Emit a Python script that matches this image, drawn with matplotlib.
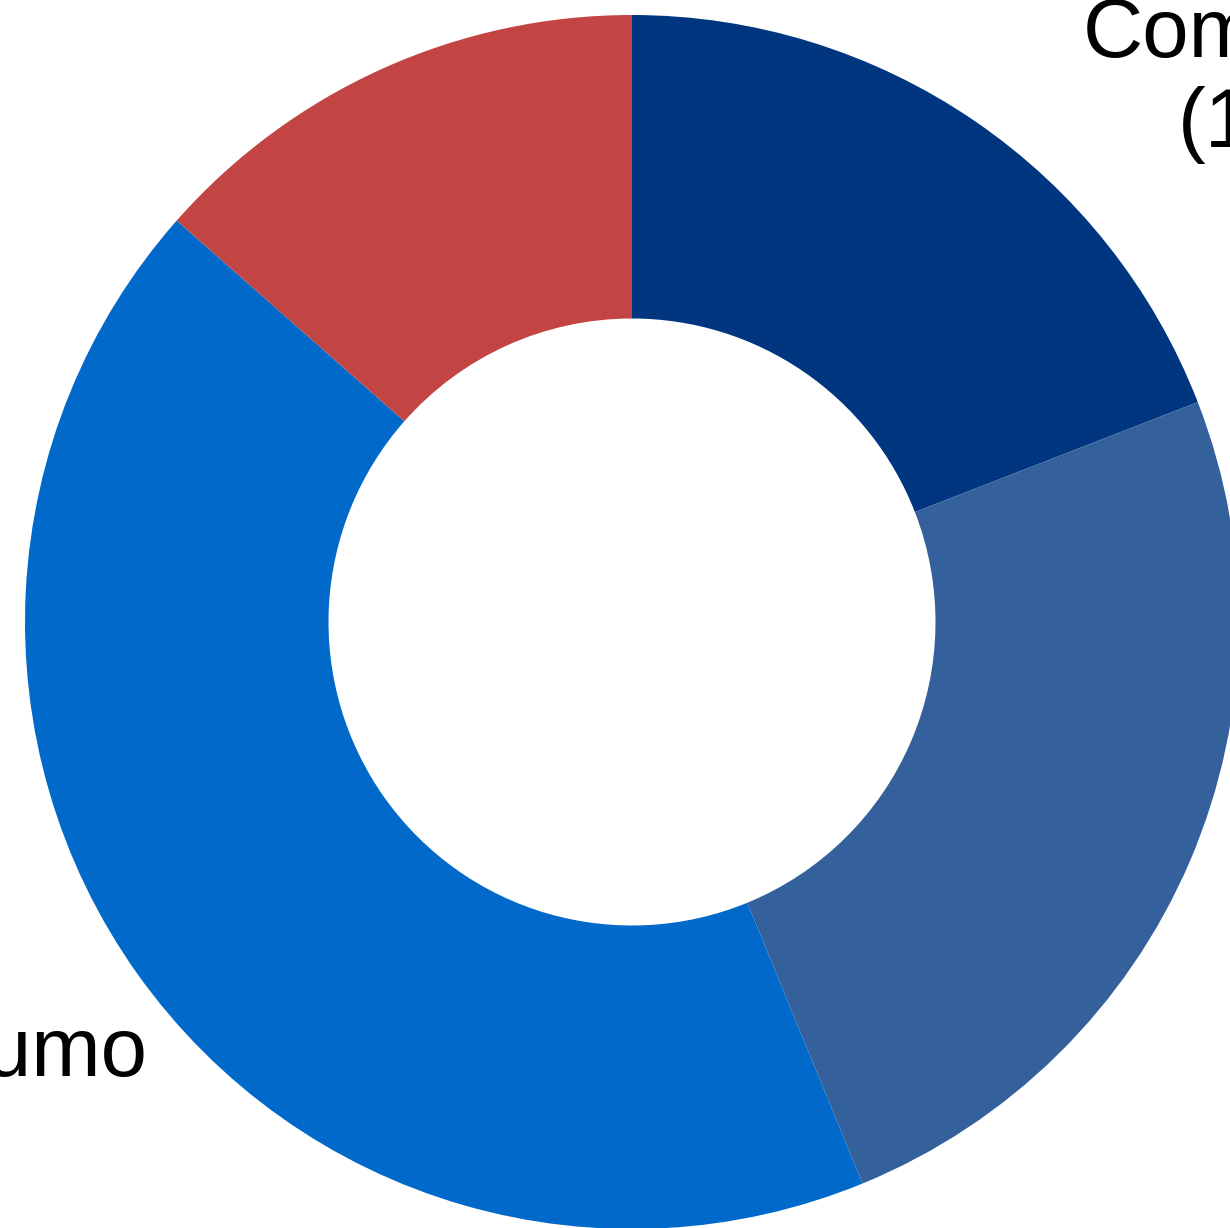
import numpy as np
import matplotlib.pyplot as plt

plt.rcParams['font.family'] = ['Liberation Sans', 'DejaVu Sans']

labels = ["Comissões", "Habitação", "Crédito ao consumo", "Outros"]
shares = [19.1, 24.7, 42.7, 13.5]
colors = ["#003580", "#34619c", "#0069c9", "#c34543"]

# label anchors (data units, pie radius = 1)
label_pos = [(0.742, 0.893), (1.45, -0.6), (-0.799, -0.786), (-0.6, 1.5)]

W, H = 1230, 1228
cx, cy, R = 632, 622, 607

fig = plt.figure(figsize=(W / 100, H / 100), dpi=100)
ax = fig.add_axes([0, 0, 1, 1])

wedges, _ = ax.pie(shares, colors=colors, startangle=90, counterclock=False,
                   radius=1, wedgeprops=dict(width=0.5, linewidth=0))

for lab, val, (x, y) in zip(labels, shares, label_pos):
    ha = 'left' if x > 0 else 'right'
    ax.text(x, y, f"{lab}\n({val:.0f}%)", ha=ha, va='center',
            multialignment='center', fontsize=60, color='black')

ax.set_xlim(-cx / R, (W - cx) / R)
ax.set_ylim(-(H - cy) / R, cy / R)
ax.set_aspect('auto')
ax.axis('off')

fig.savefig("out.png", dpi=100)
